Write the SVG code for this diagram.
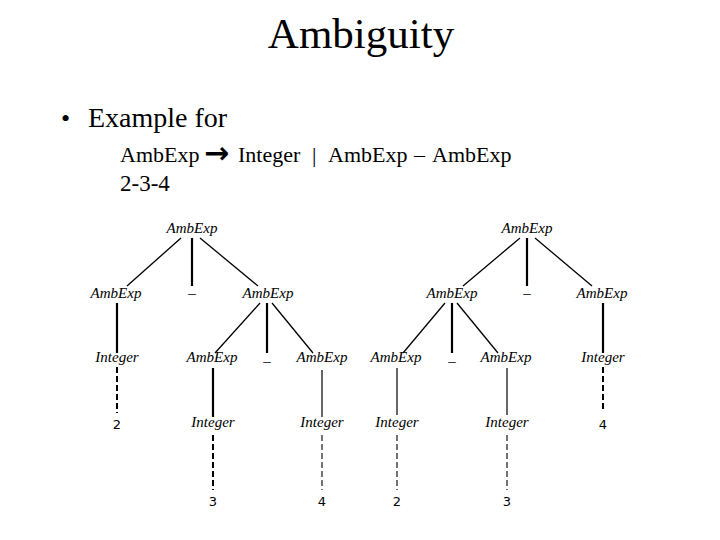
<svg xmlns="http://www.w3.org/2000/svg" width="720" height="540" viewBox="0 0 720 540">
<style>
.title{font-family:"Liberation Serif",serif;font-size:43px;fill:#000}
.body{font-family:"Liberation Serif",serif;fill:#000}
.n{font-family:"Liberation Serif",serif;font-style:italic;font-size:15px;fill:#000;text-anchor:middle}
.d{font-family:"DejaVu Sans",sans-serif;font-size:13px;fill:#000;text-anchor:middle}
.e{stroke:#000;stroke-width:1.3;fill:none}
.t{stroke:#000;stroke-width:2.2;fill:none}
.s{stroke:#000;stroke-width:1.2;fill:none}
.dt{stroke:#000;stroke-width:2;stroke-dasharray:6 3;fill:none}
.ds{stroke:#000;stroke-width:1.1;stroke-dasharray:6 3;fill:none}
</style>
<rect width="720" height="540" fill="#fff"/>
<text class="title" x="361" y="48" text-anchor="middle">Ambiguity</text>
<text class="body" x="61" y="127" font-size="26">•</text>
<text class="body" x="88" y="127" font-size="28">Example for</text>
<text class="body" y="162" font-size="22"><tspan x="120">AmbExp</tspan><tspan x="204" font-family="DejaVu Sans,sans-serif" font-size="30" font-weight="bold" dy="1">→</tspan><tspan x="238" dy="-1">Integer</tspan><tspan x="312">|</tspan><tspan x="328">AmbExp</tspan><tspan x="414">–</tspan><tspan x="432">AmbExp</tspan></text>
<text class="body" x="120" y="191" font-size="23">2-3-4</text>
<g id="connectors">
<line class="e" x1="181" y1="238" x2="127" y2="286"/>
<line class="t" x1="192" y1="238" x2="192" y2="286"/>
<line class="e" x1="200" y1="238" x2="258" y2="286"/>
<line class="t" x1="117" y1="303" x2="117" y2="353"/>
<line class="e" x1="260" y1="303" x2="215" y2="353"/>
<line class="t" x1="267" y1="303" x2="267" y2="353"/>
<line class="e" x1="272" y1="303" x2="313" y2="353"/>
<line class="dt" x1="117" y1="367" x2="117" y2="413"/>
<line class="t" x1="213" y1="368" x2="213" y2="417"/>
<line class="dt" x1="213" y1="435" x2="213" y2="490"/>
<line class="s" x1="322" y1="370" x2="322" y2="417"/>
<line class="ds" x1="322" y1="435" x2="322" y2="490"/>
<line class="e" x1="520" y1="238" x2="463" y2="286"/>
<line class="t" x1="527" y1="238" x2="527" y2="286"/>
<line class="e" x1="535" y1="238" x2="592" y2="286"/>
<line class="e" x1="445" y1="303" x2="403" y2="353"/>
<line class="t" x1="452" y1="303" x2="452" y2="353"/>
<line class="e" x1="457" y1="303" x2="498" y2="353"/>
<line class="t" x1="603" y1="303" x2="603" y2="353"/>
<line class="s" x1="397" y1="368" x2="397" y2="415"/>
<line class="ds" x1="397" y1="435" x2="397" y2="490"/>
<line class="s" x1="507" y1="368" x2="507" y2="415"/>
<line class="ds" x1="507" y1="435" x2="507" y2="490"/>
<line class="dt" x1="603" y1="367" x2="603" y2="412"/>
</g>
<g id="t1-root"><text class="n" x="192" y="233">AmbExp</text></g>
<g id="t1-l"><text class="n" x="116" y="298">AmbExp</text></g>
<g id="t1-m"><text class="n" x="192" y="298">–</text></g>
<g id="t1-r"><text class="n" x="268" y="298">AmbExp</text></g>
<g id="t1-l-int"><text class="n" x="117" y="362">Integer</text></g>
<g id="t1-rl"><text class="n" x="212" y="362">AmbExp</text></g>
<g id="t1-rm"><text class="n" x="267" y="366">–</text></g>
<g id="t1-rr"><text class="n" x="322" y="362">AmbExp</text></g>
<g id="t1-2"><text class="d" x="117" y="429">2</text></g>
<g id="t1-rl-int"><text class="n" x="213" y="427">Integer</text></g>
<g id="t1-rr-int"><text class="n" x="322" y="427">Integer</text></g>
<g id="t1-3"><text class="d" x="213" y="506">3</text></g>
<g id="t1-4"><text class="d" x="322" y="506">4</text></g>
<g id="t2-root"><text class="n" x="527" y="233">AmbExp</text></g>
<g id="t2-l"><text class="n" x="452" y="298">AmbExp</text></g>
<g id="t2-m"><text class="n" x="527" y="298">–</text></g>
<g id="t2-r"><text class="n" x="602" y="298">AmbExp</text></g>
<g id="t2-ll"><text class="n" x="396" y="362">AmbExp</text></g>
<g id="t2-lm"><text class="n" x="452" y="366">–</text></g>
<g id="t2-lr"><text class="n" x="506" y="362">AmbExp</text></g>
<g id="t2-r-int"><text class="n" x="603" y="362">Integer</text></g>
<g id="t2-4"><text class="d" x="603" y="429">4</text></g>
<g id="t2-ll-int"><text class="n" x="397" y="427">Integer</text></g>
<g id="t2-lr-int"><text class="n" x="507" y="427">Integer</text></g>
<g id="t2-2"><text class="d" x="397" y="506">2</text></g>
<g id="t2-3"><text class="d" x="507" y="506">3</text></g>
</svg>
